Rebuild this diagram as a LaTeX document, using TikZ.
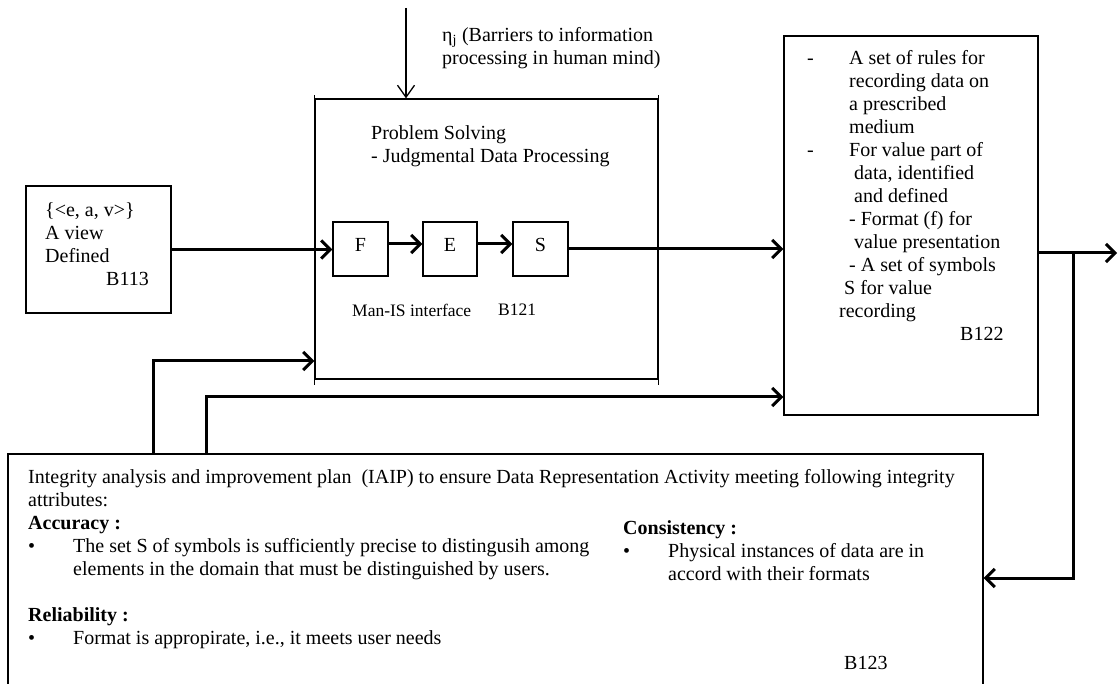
\documentclass[tikz,border=0pt]{standalone}
\usepackage{fontspec}
\setmainfont{Liberation Serif}
\usetikzlibrary{arrows.meta,calc}
\newcommand{\txtA}{\fontsize{20}{23}\selectfont}
\newcommand{\txtB}{\fontsize{17.5}{21}\selectfont}
\begin{document}
\begin{tikzpicture}[x=1pt,y=-1pt,
  box/.style={draw, line width=1.3pt, inner sep=0pt, rectangle},
  txt/.style={inner sep=0pt, anchor=north west, align=left, font=\txtA},
  lbl/.style={inner sep=0pt, anchor=west, font=\txtA},
  thk/.style={line width=3pt, -{Straight Barb[length=9pt,width=18pt]}},
  thn/.style={line width=1.3pt, -{Straight Barb[length=12pt,width=17pt]}},
  conn/.style={line width=3pt}]
\clip (0,0) rectangle (1119,684);

% boxes
\node[box, minimum width=343pt, minimum height=280pt] (b121) at (486.5,239) {};
\draw[line width=1.3pt] ($(b121.north west)+(0,-3)$) -- ($(b121.south west)+(0,5)$);
\draw[line width=1.3pt] ($(b121.north east)+(0,-3)$) -- ($(b121.south east)+(0,5)$);
\node[box, minimum width=55pt, minimum height=54pt, font=\txtA, text depth=8pt] (f) at (360.5,249) {F};
\node[box, minimum width=54pt, minimum height=54pt, font=\txtA, text depth=8pt] (e) at (450,249) {E};
\node[box, minimum width=55pt, minimum height=54pt, font=\txtA, text depth=8pt] (s) at (540.5,249) {S};
\node[box, minimum width=145pt, minimum height=127pt] (b113) at (98.5,249.5) {};
\node[box, minimum width=254pt, minimum height=379pt] (b122) at (911,225.5) {};
\node[box, minimum width=975pt, minimum height=246pt] (b123) at (495.5,577) {};

% texts
\node[txt] (eta) at (442,25) {\strut η\textsubscript{j} (Barriers to information\\processing in human mind)};
\node[txt] (ps) at (371,123) {\strut Problem Solving\\- Judgmental Data Processing};
\node[lbl, font=\txtB] (manis) at (352,310) {Man-IS interface};
\node[lbl, font=\txtB] (b121l) at (498,310) {B121};
\node[txt] (b113t) at (45,200) {\strut\{<e, a, v>\}\\A view\\Defined\\\hspace*{61pt}B113};
\node[txt] (b122t) at (807,48) {\strut\makebox[42pt][l]{-}A set of rules for\\
\hspace*{42pt}recording data on\\
\hspace*{42pt}a prescribed\\
\hspace*{42pt}medium\\
\makebox[42pt][l]{-}For value part of\\
\hspace*{47pt}data, identified\\
\hspace*{47pt}and defined\\
\hspace*{42pt}- Format (f) for\\
\hspace*{47pt}value presentation\\
\hspace*{42pt}- A set of symbols\\
\hspace*{37pt}S for value\\
\hspace*{32pt}recording\\
\hspace*{153pt}B122};
\node[txt] (b123t) at (28,467) {\strut Integrity analysis and improvement plan\ \ (IAIP) to ensure Data Representation Activity meeting following integrity\\
attributes:\\
\textbf{Accuracy :}\\
\makebox[45pt][l]{\textbullet}The set S of symbols is sufficiently precise to distingusih among\\
\hspace*{45pt}elements in the domain that must be distinguished by users.\\
\strut\\
\textbf{Reliability :}\\
\makebox[45pt][l]{\textbullet}Format is appropirate, i.e., it meets user needs};
\node[txt] (cons) at (623,518) {\strut\textbf{Consistency :}\\
\makebox[45pt][l]{\textbullet}Physical instances of data are in\\
\hspace*{45pt}accord with their formats};
\node[lbl] (b123l) at (844,663) {B123};

% connectors
\coordinate (topin) at (406,8);
\draw[thn] (topin) -- (topin |- b121.north);
\draw[thk] (b113.east) -- (b113.east -| f.west);
\draw[thk] ($(f.east)+(0,-5)$) -- ($(e.west)+(0,-5)$);
\draw[thk] ($(e.east)+(0,-5)$) -- ($(s.west)+(0,-5)$);
\draw[thk] (s.east) -- (s.east -| b122.west);
\coordinate (out) at (1117,253);
\coordinate (vj) at (1073,253);
\coordinate (rb) at (1073,578);
\draw[thk] (b122.east |- out) -- (out);
\draw[thk] (vj) -- (rb) -- (rb -| b123.east);
\coordinate (fb1) at (153,361);
\coordinate (fb2) at (206,397);
\draw[thk] (fb1 |- b123.north) -- (fb1) -- (fb1 -| b121.west);
\draw[thk] (fb2 |- b123.north) -- (fb2) -- (fb2 -| b122.west);
\end{tikzpicture}
\end{document}
